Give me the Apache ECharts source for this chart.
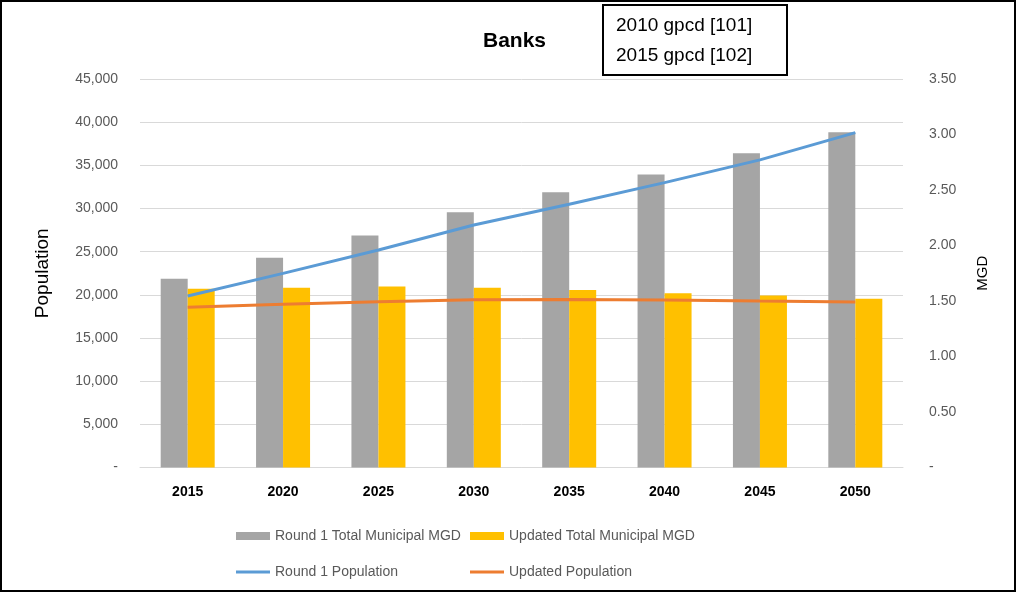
<!DOCTYPE html>
<html>
<head>
<meta charset="utf-8">
<script src="https://cdn.jsdelivr.net/npm/echarts@6/dist/echarts.min.js"></script>
<style>
  html, body { margin: 0; padding: 0; background: #fff; }
  #chart { width: 1017px; height: 593px; }
</style>
</head>
<body>
<div id="chart"></div>
<script>
// data
const years = ['2015', '2020', '2025', '2030', '2035', '2040', '2045', '2050']
const round1Mgd = [1.70, 1.89, 2.09, 2.30, 2.48, 2.64, 2.83, 3.02]
const updatedMgd = [1.61, 1.62, 1.63, 1.62, 1.60, 1.57, 1.55, 1.52]
const round1Pop = [19860, 22490, 25190, 28090, 30490, 33000, 35630, 38790]
const updatedPop = [18550, 18900, 19200, 19440, 19470, 19400, 19280, 19170]
const gpcdNotes = ['2010 gpcd [101]', '2015 gpcd [102]']

const FONT = '"Liberation Sans", Arial, sans-serif'
const TXT = '#595959'

const chart = echarts.init(document.getElementById('chart'))

const legendItem = (name, left, top, icon, h) => ({
    left: left, top: top,
    data: [{ name: name, icon: icon }],
    itemWidth: 34, itemHeight: h, itemGap: 4,
    textStyle: { color: TXT, fontSize: 14, fontFamily: FONT },
    selectedMode: false
})

const option = {
    backgroundColor: '#fff',
    animation: false,
    title: {
        text: 'Banks',
        left: 478, top: 26,
        textStyle: { fontSize: 21, fontWeight: 'bold', color: '#000', fontFamily: FONT }
    },
    legend: [
        legendItem('Round 1 Total Municipal MGD', 231, 524, 'rect', 8),
        legendItem('Updated Total Municipal MGD', 465, 524, 'rect', 8),
        legendItem('Round 1 Population', 231, 560, 'rect', 3),
        legendItem('Updated Population', 465, 560, 'rect', 3)
    ],
    grid: { left: 140, right: 114, top: 79, bottom: 125.5 },
    xAxis: {
        type: 'category',
        data: years,
        axisLine: { lineStyle: { color: '#D9D9D9' } },
        axisTick: { show: false },
        axisLabel: { color: '#000', fontWeight: 'bold', fontSize: 14, fontFamily: FONT, margin: 18 }
    },
    yAxis: [
        {
            type: 'value', min: 0, max: 45000, interval: 5000,
            name: 'Population', nameLocation: 'middle', nameGap: 88, nameRotate: 90,
            nameTextStyle: { fontSize: 19, color: '#000', fontFamily: FONT },
            axisLine: { show: false }, axisTick: { show: false },
            splitLine: { lineStyle: { color: '#D9D9D9' } },
            axisLabel: {
                color: TXT, fontSize: 14, fontFamily: FONT, margin: 22,
                formatter: v => v === 0 ? '-' : v.toLocaleString('en-US')
            }
        },
        {
            type: 'value', min: 0, max: 3.5, interval: 0.5,
            name: 'MGD', nameLocation: 'middle', nameGap: 72, nameRotate: 90,
            nameTextStyle: { fontSize: 15, color: '#000', fontFamily: FONT },
            axisLine: { show: false }, axisTick: { show: false },
            splitLine: { show: false },
            axisLabel: {
                color: TXT, fontSize: 14, fontFamily: FONT, margin: 26,
                formatter: v => v === 0 ? '-' : v.toFixed(2)
            }
        }
    ],
    series: [
        {
            name: 'Round 1 Total Municipal MGD', type: 'bar', yAxisIndex: 1,
            data: round1Mgd, barWidth: 27, barGap: '0%',
            itemStyle: { color: '#A5A5A5' }
        },
        {
            name: 'Updated Total Municipal MGD', type: 'bar', yAxisIndex: 1,
            data: updatedMgd, barWidth: 27,
            itemStyle: { color: '#FFC000' }
        },
        {
            name: 'Round 1 Population', type: 'line', yAxisIndex: 0,
            data: round1Pop, showSymbol: false, z: 5,
            lineStyle: { color: '#5B9BD5', width: 3 },
            itemStyle: { color: '#5B9BD5' }
        },
        {
            name: 'Updated Population', type: 'line', yAxisIndex: 0,
            data: updatedPop, showSymbol: false, z: 5,
            lineStyle: { color: '#ED7D31', width: 3 },
            itemStyle: { color: '#ED7D31' }
        }
    ],
    graphic: [
        {
            type: 'rect', silent: true,
            shape: { x: 1, y: 1, width: 1014, height: 590 },
            style: { fill: 'none', stroke: '#000', lineWidth: 2 }
        },
        {
            type: 'rect', silent: true,
            shape: { x: 603, y: 5, width: 184, height: 70 },
            style: { fill: '#fff', stroke: '#000', lineWidth: 2 }
        },
        {
            type: 'text', silent: true,
            left: 616, top: 11,
            style: {
                text: gpcdNotes.join('\n'), lineHeight: 30,
                fontSize: 19, fontFamily: FONT, fill: '#000'
            }
        }
    ]
}

chart.setOption(option)
</script>
</body>
</html>
